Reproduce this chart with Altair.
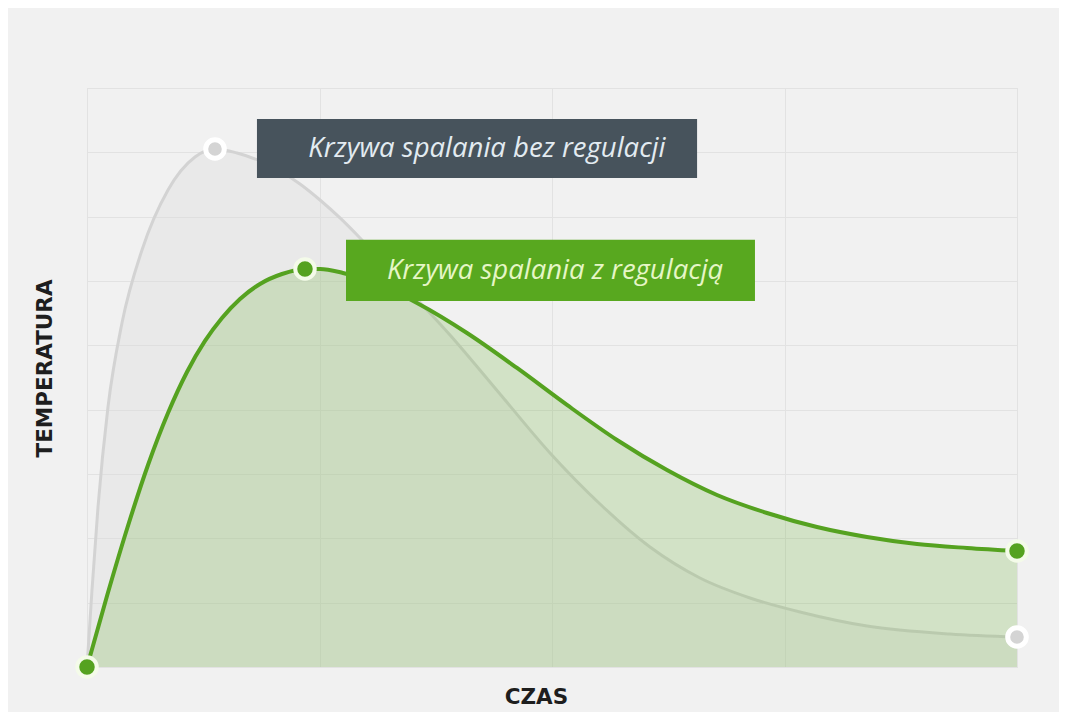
import altair as alt
import pandas as pd

# Curve without regulation (gray)
gray_x = [0.000, 0.0215, 0.0473, 0.0903, 0.1505, 0.2366, 0.3484, 0.4645, 0.5505, 0.6452,
          0.7441, 0.8301, 0.9161, 1.0022, 1.0882, 1.1742, 1.3462, 1.5613, 1.7763, 1.9914,
          2.2065, 2.4215, 2.6366, 2.8516, 3.0667, 3.3548, 3.7118, 4.000]
gray_y = [0.000, 1.197, 2.487, 4.042, 5.347, 6.482, 7.415, 7.928, 8.052, 7.990,
          7.866, 7.710, 7.508, 7.259, 6.980, 6.669, 6.000, 5.161, 4.244, 3.327,
          2.534, 1.865, 1.383, 1.073, 0.855, 0.637, 0.513, 0.466]

# Curve with regulation (green)
green_x = [0.000, 0.0860, 0.1720, 0.2624, 0.3484, 0.4301, 0.5075, 0.5806, 0.6581, 0.7441,
           0.8387, 0.9376, 1.0022, 1.1011, 1.2602, 1.4194, 1.6344, 1.8495, 2.0645, 2.2796,
           2.4946, 2.7097, 2.9247, 3.1398, 3.3548, 3.5699, 3.7849, 4.000]
green_y = [0.000, 1.104, 2.145, 3.140, 3.948, 4.586, 5.068, 5.425, 5.720, 5.954,
           6.109, 6.187, 6.187, 6.125, 5.938, 5.658, 5.192, 4.648, 4.073, 3.529,
           3.062, 2.674, 2.394, 2.176, 2.021, 1.912, 1.850, 1.803]

gray_pts_x = [0.5505, 4.000]
gray_pts_y = [8.052, 0.466]
green_pts_x = [0.000, 0.9376, 4.000]
green_pts_y = [0.000, 6.187, 1.803]

label_text = ["Krzywa spalania bez regulacji", "Krzywa spalania z regulacją"]
box_x1 = [0.731, 1.114]
box_x2 = [2.624, 2.873]
box_y1 = [8.52, 6.64]
box_y2 = [7.60, 5.69]
text_x = [1.720, 2.013]
text_y = [8.05, 6.16]

x_ticks = [0, 1, 2, 3, 4]
y_ticks = [0, 1, 2, 3, 4, 5, 6, 7, 8, 9]

gray_df = pd.DataFrame({"x": gray_x, "y": gray_y})
green_df = pd.DataFrame({"x": green_x, "y": green_y})
gray_pts = pd.DataFrame({"x": gray_pts_x, "y": gray_pts_y})
green_pts = pd.DataFrame({"x": green_pts_x, "y": green_pts_y})
box_df = pd.DataFrame({"x": box_x1, "x2": box_x2, "y": box_y1, "y2": box_y2,
                       "label": label_text, "tx": text_x, "ty": text_y})

xscale = alt.Scale(domain=[0, 4], nice=False, zero=False)
yscale = alt.Scale(domain=[0, 9], nice=False, zero=False)

xaxis = alt.Axis(values=x_ticks, grid=True, labels=False, ticks=False, domain=False,
                 title="CZAS", titleX=449, titleY=30, titleAlign="center",
                 titleBaseline="middle", titleFont="DejaVu Sans", titleFontSize=21.5,
                 titleFontWeight="bold", titleColor="#1e1e1e",
                 gridColor="#e2e2e2", gridWidth=1)
yaxis = alt.Axis(values=y_ticks, grid=True, labels=False, ticks=False, domain=False,
                 title="TEMPERATURA", titleX=-42, titleY=280, titleAngle=270,
                 titleAlign="center", titleBaseline="middle", titleFont="DejaVu Sans",
                 titleFontSize=21.5, titleFontWeight="bold", titleColor="#1e1e1e",
                 gridColor="#e2e2e2", gridWidth=1)

X = alt.X("x:Q", scale=xscale, axis=xaxis)
Y = alt.Y("y:Q", scale=yscale, axis=yaxis)

gray_area = alt.Chart(gray_df).mark_area(
    interpolate="monotone", color="#d8d8d8", opacity=0.3
).encode(x=X, y=Y)

gray_line = alt.Chart(gray_df).mark_line(
    interpolate="monotone", color="#d3d3d3", strokeWidth=3
).encode(x=X, y=Y)

green_area = alt.Chart(green_df).mark_area(
    interpolate="monotone", color="#5aa820", opacity=0.2
).encode(x=X, y=Y)

green_line = alt.Chart(green_df).mark_line(
    interpolate="monotone", color="#55a220", strokeWidth=4
).encode(x=X, y=Y)

gray_marks = alt.Chart(gray_pts).mark_circle(
    size=346, color="#d4d4d4", stroke="#ffffff", strokeWidth=5, opacity=1
).encode(x=X, y=Y)

green_marks = alt.Chart(green_pts).mark_circle(
    size=380, color="#55a220", stroke="#f4fbe9", strokeWidth=4, opacity=1
).encode(x=X, y=Y)

boxes = alt.Chart(box_df).mark_rect(opacity=1).encode(
    x=X, x2="x2:Q", y=Y, y2="y2:Q",
    color=alt.Color("label:N", scale=alt.Scale(domain=label_text,
                                                range=["#47535c", "#58a81f"]),
                    legend=None),
)

texts = alt.Chart(box_df).mark_text(
    font="Open Sans", fontSize=27.5, fontStyle="italic", align="center", baseline="middle"
).encode(
    x=alt.X("tx:Q", scale=xscale, axis=xaxis),
    y=alt.Y("ty:Q", scale=yscale, axis=yaxis),
    text="label:N",
    color=alt.Color("label:N", scale=alt.Scale(domain=label_text,
                                                range=["#e3ebf1", "#e6f6c6"]),
                    legend=None),
)

chart = alt.layer(
    gray_area, gray_line, green_area, green_line, gray_marks, green_marks, boxes, texts
).resolve_scale(color="independent").properties(
    width=930, height=579,
    padding={"left": 79, "top": 80, "right": 42, "bottom": 45},
    autosize=alt.AutoSizeParams(type="none"),
    background="#f1f1f1",
).configure_view(stroke="#dcdcdc", strokeWidth=1)

chart.save("out.html", embed_options={"renderer": "svg", "actions": False})
